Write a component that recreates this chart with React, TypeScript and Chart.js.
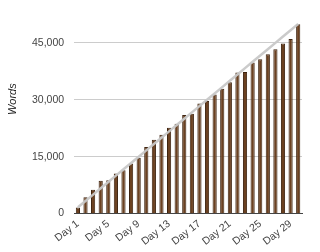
import React, { useEffect, useRef } from "react";
import { Chart, registerables } from "chart.js";

Chart.register(...registerables);

const days: string[] = Array.from({ length: 30 }, (_, i) => `Day ${i + 1}`);
const wordsWritten: number[] = [
  1600, 4300, 6300, 8650, 8800, 10550, 11450, 13200, 14700, 17550,
  19450, 20800, 22600, 23700, 26000, 26300, 29000, 29650, 31400, 32900,
  34600, 37200, 37300, 39800, 40700, 42000, 43300, 44850, 46000, 49900,
];
const targetWords: number[] = [
  1667, 3333, 5000, 6667, 8333, 10000, 11667, 13333, 15000, 16667,
  18333, 20000, 21667, 23333, 25000, 26667, 28333, 30000, 31667, 33333,
  35000, 36667, 38333, 40000, 41667, 43333, 45000, 46667, 48333, 50000,
];
const yTicks: number[] = [0, 15000, 30000, 45000];
const yTitle = "Words";

const FONT = "'Liberation Sans', Arial, sans-serif";

const titlePlugin = {
  id: "yTitlePlugin",
  afterDraw(chart: any) {
    const { ctx, chartArea } = chart;
    ctx.save();
    ctx.font = `italic 11px ${FONT}`;
    ctx.fillStyle = "#222";
    ctx.textAlign = "center";
    ctx.textBaseline = "middle";
    const y = chartArea.top + (chartArea.bottom - chartArea.top) * 0.42;
    ctx.translate(13, y);
    ctx.rotate(-Math.PI / 2);
    ctx.fillText(yTitle, 0, 0);
    ctx.restore();
  },
};

export default function App() {
  const ref = useRef<HTMLCanvasElement>(null);
  useEffect(() => {
    if (!ref.current) return;
    const chart = new Chart(ref.current, {
      type: "bar",
      data: {
        labels: days,
        datasets: [
          {
            type: "line",
            label: "Target",
            data: targetWords,
            borderColor: "rgba(200,200,200,0.95)",
            borderWidth: 2.5,
            pointRadius: 0,
            fill: false,
            tension: 0,
            order: 0,
          } as any,
          {
            type: "bar",
            label: "Words",
            data: wordsWritten,
            backgroundColor: "#6b4121",
            borderColor: "#3e2410",
            borderWidth: 1,
            barPercentage: 0.55,
            categoryPercentage: 1,
            order: 1,
          },
        ],
      },
      options: {
        animation: false,
        responsive: false,
        maintainAspectRatio: false,
        layout: { padding: { top: 12, right: 18, left: 22, bottom: 0 } },
        plugins: { legend: { display: false }, tooltip: { enabled: false } },
        scales: {
          x: {
            offset: true,
            grid: { display: false, drawTicks: false },
            border: { display: true, color: "#444", width: 1 },
            ticks: {
              autoSkip: false,
              minRotation: 38,
              maxRotation: 38,
              padding: 4,
              color: "#444",
              font: { family: FONT, size: 10.5 },
              callback: (_v: any, i: number) => (i % 4 === 0 ? days[i] : null),
            },
          },
          y: {
            min: 0,
            max: 52000,
            afterBuildTicks: (scale: any) => {
              scale.ticks = yTicks.map((v) => ({ value: v }));
            },
            grid: {
              drawTicks: false,
              color: (c: any) => (c.tick && c.tick.value === 0 ? "#444" : "#cccccc"),
            },
            border: { display: false },
            ticks: {
              padding: 10,
              color: "#444",
              font: { family: FONT, size: 10.5 },
              callback: (v: any) => Number(v).toLocaleString("en-US"),
            },
          },
        },
      },
      plugins: [titlePlugin],
    });
    return () => chart.destroy();
  }, []);
  return (
    <div style={{ position: "fixed", left: 0, top: 0, width: 320, height: 252, background: "#fff" }}>
      <canvas ref={ref} width={320} height={252} style={{ width: 320, height: 252 }} />
    </div>
  );
}
